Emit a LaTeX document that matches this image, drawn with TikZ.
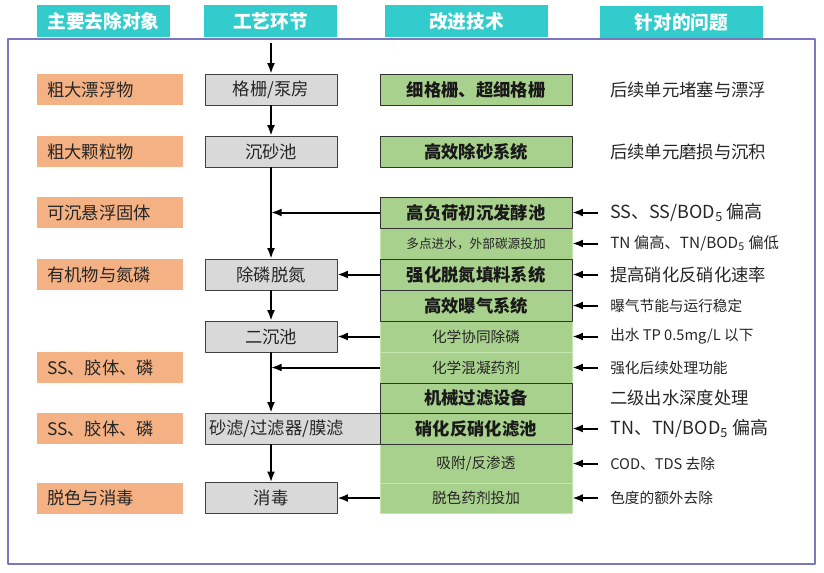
\documentclass[tikz,border=0pt]{standalone}
\usepackage{fontspec}
\setmainfont{Noto Sans CJK SC}
\usetikzlibrary{arrows.meta,positioning,calc}

\definecolor{headcyan}{RGB}{51,204,204}
\definecolor{targetorange}{RGB}{244,177,131}
\definecolor{stagegray}{RGB}{217,217,217}
\definecolor{techgreen}{RGB}{169,209,142}
\definecolor{techline}{RGB}{196,228,176}
\definecolor{framepurple}{RGB}{120,120,190}

\begin{document}
\begin{tikzpicture}[
    x=0.75pt,
    y=-0.75pt,
    line join=round,
    >={Latex[length=8pt,width=6pt]},
    head/.style={
        fill=headcyan,
        text=white,
        inner sep=0pt,
        minimum width=99.75pt,
        minimum height=24pt,
        font=\fontsize{14}{16}\selectfont\bfseries
    },
    target/.style={
        fill=targetorange,
        text=black!85,
        inner xsep=7.5pt,
        inner ysep=0pt,
        text width=94.5pt,
        align=left,
        minimum height=23.25pt,
        font=\fontsize{13}{15}\selectfont
    },
    stage/.style={
        draw=black!75,
        fill=stagegray,
        text=black!85,
        inner sep=0pt,
        minimum width=99pt,
        minimum height=23.25pt,
        font=\fontsize{13}{15}\selectfont
    },
    tech/.style={
        draw=black!80,
        fill=techgreen,
        text=black!90,
        inner sep=0pt,
        minimum width=144pt,
        minimum height=23.25pt,
        font=\fontsize{13}{15}\selectfont\bfseries
    },
    techsub/.style={
        draw=techline,
        fill=techgreen,
        text=black!85,
        inner sep=0pt,
        minimum width=144pt,
        minimum height=23.25pt,
        font=\fontsize{11}{13}\selectfont
    },
    issue/.style={
        anchor=west,
        inner xsep=9pt,
        inner ysep=0pt,
        text=black!85,
        font=\fontsize{13}{15}\selectfont
    },
    small/.style={font=\fontsize{11}{13}\selectfont},
    arrow/.style={->,line width=1.5pt,black}
]
\useasboundingbox (0,0) rectangle (824,572);

% outer frame
\draw[framepurple,line width=0.8pt] (8,39) rectangle (815,564);

% column heads
\node[head] (hTarget) at (103.5,21) {主要去除对象};
\node[head] (hStage) at (270.5,21) {工艺环节};
\node[head,minimum width=122.25pt] (hTech) at (466.5,21) {改进技术};
\node[head,minimum width=122.25pt] (hIssue) at (681.5,22) {针对的问题};

% removal targets
\node[target] (o1) at (110,89.5) {粗大漂浮物};
\node[target] (o2) at (110,151.5) {粗大颗粒物};
\node[target] (o3) at (110,212.5) {可沉悬浮固体};
\node[target] (o4) at (110,274.5) {有机物与氮磷};
\node[target] (o5) at (110,367.5) {SS、胶体、磷};
\node[target] (o6) at (110,428.5) {SS、胶体、磷};
\node[target] (o7) at (110,498) {脱色与消毒};

% process stages
\node[stage] (s1) at (271,89.5) {格栅/泵房};
\node[stage] (s2) at (271,151.5) {沉砂池};
\node[stage] (s3) at (271,274.5) {除磷脱氮};
\node[stage] (s4) at (271,336.5) {二沉池};
\node[stage,inner xsep=3pt,text width=125.25pt,align=left] (s5) at (292.5,428.5) {砂滤/过滤器/膜滤};
\node[stage] (s6) at (271,498) {消毒};

% improved techniques
\node[techsub,font=\fontsize{9.5}{11}\selectfont] (t4) at (476,243.5) {多点进水，外部碳源投加};
\node[techsub] (t7) at (476,336.5) {化学协同除磷};
\node[techsub] (t8) at (476,367.5) {化学混凝药剂};
\node[techsub,minimum height=29.25pt] (t11) at (476,463.5) {吸附/反渗透};
\node[techsub,minimum height=22.5pt] (t12) at (476,498) {脱色药剂投加};
\node[tech] (t1) at (476,89.5) {细格栅、超细格栅};
\node[tech] (t2) at (476,151.5) {高效除砂系统};
\node[tech] (t3) at (476,212.5) {高负荷初沉发酵池};
\node[tech] (t5) at (476,274.5) {强化脱氮填料系统};
\node[tech] (t6) at (476,305.5) {高效曝气系统};
\node[tech,minimum height=22.5pt] (t9) at (476,398) {机械过滤设备};
\node[tech] (t10) at (476,428.5) {硝化反硝化滤池};

% problems addressed
\node[issue] (q1) at (598,89.5) {后续单元堵塞与漂浮};
\node[issue] (q2) at (598,151.5) {后续单元磨损与沉积};
\node[issue,font=\fontsize{13.5}{16}\selectfont] (q3) at (598,212.5) {SS、SS/BOD\textsubscript{5} 偏高};
\node[issue,font=\fontsize{11.5}{13}\selectfont] (q4) at (598,243.5) {TN 偏高、TN/BOD\textsubscript{5} 偏低};
\node[issue] (q5) at (598,274.5) {提高硝化反硝化速率};
\node[issue,small] (q6) at (598,305.5) {曝气节能与运行稳定};
\node[issue,small] (q7) at (598,336.5) {出水 TP 0.5mg/L 以下};
\node[issue,small] (q8) at (598,367.5) {强化后续处理功能};
\node[issue] (q9) at (598,398) {二级出水深度处理};
\node[issue,font=\fontsize{13.5}{16}\selectfont] (q10) at (598,428.5) {TN、TN/BOD\textsubscript{5} 偏高};
\node[issue,small] (q11) at (598,463.5) {COD、TDS 去除};
\node[issue,small] (q12) at (598,498) {色度的额外去除};

% main flow
\coordinate (inlet) at (271,43);
\draw[arrow] (inlet) -- (s1);
\draw[arrow] (s1) -- (s2);
\draw[arrow] (s2) -- (s3);
\draw[arrow] (s3) -- (s4);
\draw[arrow] (s4.south) -- (s4.south |- s5.north);
\draw[arrow] (s5.south -| s6) -- (s6);

% technique inputs
\draw[arrow] (t3.west) -- (t3.west -| s2.south);
\draw[arrow] (t5) -- (s3);
\draw[arrow] (t7) -- (s4);
\draw[arrow] (t8.west) -- (t8.west -| s4.south);
\draw[arrow] (t12) -- (s6);

\foreach \i in {3,4,5,6,7,8,10,11,12}
    \draw[arrow] (q\i.west) -- (t\i.east);

\end{tikzpicture}
\end{document}
